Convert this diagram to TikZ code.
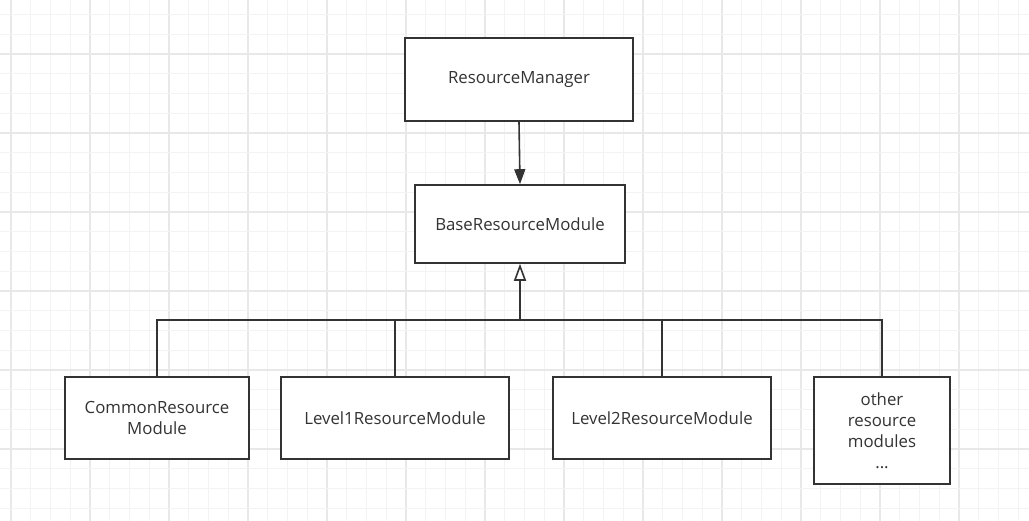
\documentclass[tikz,border=0pt]{standalone}
\usepackage{fontspec}
\setmainfont{Open Sans}
\usetikzlibrary{arrows.meta}
\definecolor{ink}{HTML}{333333}
\definecolor{gminor}{HTML}{F3F3F3}
\definecolor{gmajor}{HTML}{E8E8E8}
\tikzset{
  box/.style={draw=ink, line width=1.6pt, fill=white, inner sep=0pt, text=ink,
    font=\fontsize{16.8}{21}\selectfont, align=center},
  conn/.style={draw=ink, line width=1.6pt},
}
\begin{document}
\begin{tikzpicture}[x=1pt,y=-1pt]
\useasboundingbox (0,0) rectangle (1029,521);
\fill[white] (0,0) rectangle (1029,521);
% grid
\foreach \i in {0,...,51}{
  \pgfmathsetmacro\xx{11+19.75*\i}
  \pgfmathtruncatemacro\m{mod(\i,4)}
  \ifnum\m=0
    \draw[gmajor, line width=1.4pt] (\xx,0) -- (\xx,521);
  \else
    \draw[gminor, line width=1pt] (\xx,0) -- (\xx,521);
  \fi
}
\foreach \j in {0,...,26}{
  \pgfmathsetmacro\yy{14.5+19.75*\j}
  \pgfmathtruncatemacro\m{mod(\j+2,4)}
  \ifnum\m=0
    \draw[gmajor, line width=1.4pt] (0,\yy) -- (1029,\yy);
  \else
    \draw[gminor, line width=1pt] (0,\yy) -- (1029,\yy);
  \fi
}
% nodes
\node[box, minimum width=228pt, minimum height=83pt] (rm) at (519,79.5) {\raisebox{-2pt}{ResourceManager}};
\node[box, minimum width=210pt, minimum height=78pt] (brm) at (520,224) {BaseResourceModule};
\node[box, minimum width=184pt, minimum height=82pt] (crm) at (157,418) {CommonResource\\Module};
\node[box, minimum width=228pt, minimum height=82pt] (l1) at (395,418) {Level1ResourceModule};
\node[box, minimum width=218pt, minimum height=82pt] (l2) at (662,418) {Level2ResourceModule};
\node[box, minimum width=136pt, minimum height=107pt] (oth) at (882,430.5) {other\\resource\\modules\\...};
% connectors
\coordinate (bus) at (520,320);
\draw[conn, -{Triangle[length=15pt,width=11pt]}] (rm.south) -- (brm.north);
\draw[conn, -{Triangle[open,length=17pt,width=12pt,fill=white]}] (bus) -- (brm.south);
\draw[conn] (crm.north) |- (bus);
\draw[conn] (l1.north) |- (bus);
\draw[conn] (l2.north) |- (bus);
\draw[conn] (oth.north) |- (bus);
\end{tikzpicture}
\end{document}
